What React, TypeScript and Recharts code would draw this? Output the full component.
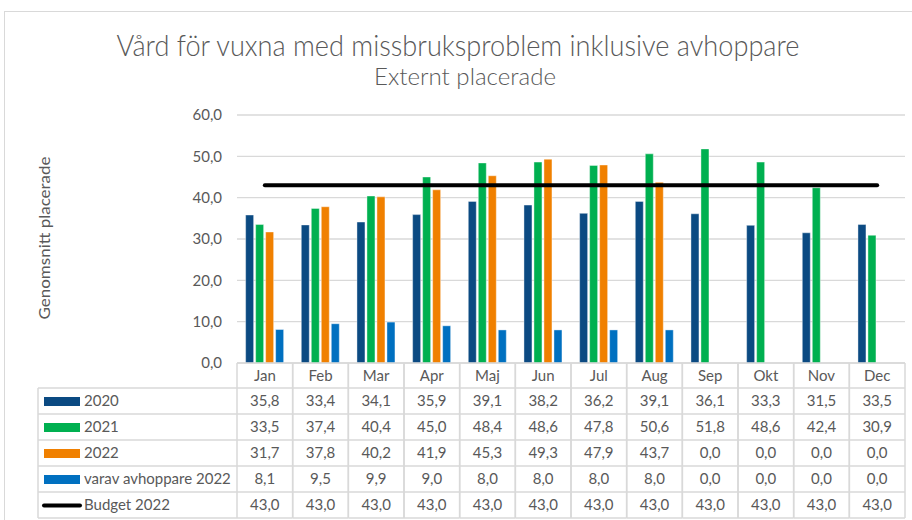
import { ComposedChart, Bar, Line, XAxis, YAxis, CartesianGrid } from 'recharts';

const months = ['Jan', 'Feb', 'Mar', 'Apr', 'Maj', 'Jun', 'Jul', 'Aug', 'Sep', 'Okt', 'Nov', 'Dec'];
const y2020 = [35.8, 33.4, 34.1, 35.9, 39.1, 38.2, 36.2, 39.1, 36.1, 33.3, 31.5, 33.5];
const y2021 = [33.5, 37.4, 40.4, 45.0, 48.4, 48.6, 47.8, 50.6, 51.8, 48.6, 42.4, 30.9];
const y2022 = [31.7, 37.8, 40.2, 41.9, 45.3, 49.3, 47.9, 43.7, 0, 0, 0, 0];
const avhoppare2022 = [8.1, 9.5, 9.9, 9.0, 8.0, 8.0, 8.0, 8.0, 0, 0, 0, 0];
const budget2022 = [43, 43, 43, 43, 43, 43, 43, 43, 43, 43, 43, 43];
const yTicks = [0, 10, 20, 30, 40, 50, 60];

const series = [
  { key: 'y2020', name: '2020', color: '#0B4A82', values: y2020 },
  { key: 'y2021', name: '2021', color: '#00B050', values: y2021 },
  { key: 'y2022', name: '2022', color: '#F08000', values: y2022 },
  { key: 'avh', name: 'varav avhoppare 2022', color: '#0070C0', values: avhoppare2022 },
  { key: 'budget', name: 'Budget 2022', color: '#000000', values: budget2022 },
];

const data = months.map((m, i) => ({
  month: m,
  y2020: y2020[i],
  y2021: y2021[i],
  y2022: y2022[i],
  avh: avhoppare2022[i],
  budget: budget2022[i],
}));

const W = 912;
const H = 520;
const PLOT_LEFT = 237;
const PLOT_RIGHT = 905;
const PLOT_TOP = 115;
const CELL_W = (PLOT_RIGHT - PLOT_LEFT) / months.length;
const ROW_TOPS = [363, 388, 414, 440, 466, 492, 518];
const TEXT = '#595959';
const BORDER = '#D9D9D9';
const FONT = 'Lato, "Open Sans", sans-serif';
const FS = 15;

const fmt = (v: number) => v.toFixed(1).replace('.', ',');

// one table column per category, placed at the axis tick
function TableTick(props: any) {
  const { x, payload } = props;
  const i = payload.index;
  const left = x - CELL_W / 2;
  const right = x + CELL_W / 2;
  return (
    <g>
      <line x1={left} x2={left} y1={ROW_TOPS[0]} y2={ROW_TOPS[6]} stroke={BORDER} strokeWidth={1.5} />
      <line x1={right} x2={right} y1={ROW_TOPS[0]} y2={ROW_TOPS[6]} stroke={BORDER} strokeWidth={1.5} />
      {ROW_TOPS.slice(1).map((t) => (
        <line key={t} x1={left} x2={right} y1={t} y2={t} stroke={BORDER} strokeWidth={1.5} />
      ))}
      <text x={x} y={(ROW_TOPS[0] + ROW_TOPS[1]) / 2 + 5} textAnchor="middle" fill={TEXT} fontSize={FS} fontFamily={FONT}>
        {payload.value}
      </text>
      {series.map((s, r) => (
        <text
          key={s.key}
          x={x}
          y={(ROW_TOPS[r + 1] + ROW_TOPS[r + 2]) / 2 + 5}
          textAnchor="middle"
          fill={TEXT}
          fontSize={FS}
          fontFamily={FONT}
        >
          {fmt(s.values[i])}
        </text>
      ))}
    </g>
  );
}

export default function App() {
  return (
    <div style={{ position: 'fixed', left: 0, top: 0, width: W, height: H, background: '#fff' }}>
      <ComposedChart
        width={W}
        height={H}
        data={data}
        margin={{ top: PLOT_TOP, right: W - PLOT_RIGHT, bottom: 1, left: 177 }}
        barCategoryGap="15.5%"
        barGap={2}
      >
        <CartesianGrid vertical={false} stroke={BORDER} strokeWidth={1.3} />
        <XAxis
          dataKey="month"
          height={156}
          interval={0}
          tickLine={false}
          axisLine={{ stroke: BORDER, strokeWidth: 1.5 }}
          tick={<TableTick />}
        />
        <YAxis
          width={60}
          domain={[0, 60]}
          ticks={yTicks}
          tickFormatter={fmt}
          axisLine={false}
          tickLine={false}
          tickMargin={9}
          tick={{ fill: TEXT, fontSize: FS, fontFamily: FONT }}
        />
        {series.slice(0, 4).map((s) => (
          <Bar
            key={s.key}
            dataKey={s.key}
            name={s.name}
            fill={s.color}
            stroke="#ffffff"
            strokeOpacity={0.5}
            strokeWidth={0.8}
            isAnimationActive={false}
          />
        ))}
        <Line
          dataKey="budget"
          name="Budget 2022"
          stroke="#000000"
          strokeWidth={4}
          strokeLinecap="round"
          dot={false}
          activeDot={false}
          isAnimationActive={false}
        />
      </ComposedChart>
      <svg width={W} height={H} style={{ position: 'absolute', left: 0, top: 0, pointerEvents: 'none' }}>
        <rect x={4.5} y={11.5} width={W} height={H} fill="none" stroke={BORDER} strokeWidth={1} />
        <text x={458} y={56} textAnchor="middle" fill={TEXT} fontSize={29} fontWeight={300} fontFamily={FONT} textLength={683} lengthAdjust="spacingAndGlyphs">
          Vård för vuxna med missbruksproblem inklusive avhoppare
        </text>
        <text x={465} y={85} textAnchor="middle" fill={TEXT} fontSize={23} fontWeight={300} fontFamily={FONT} textLength={182} lengthAdjust="spacingAndGlyphs">
          Externt placerade
        </text>
        <text
          x={0}
          y={0}
          transform="translate(50 238) rotate(-90)"
          textAnchor="middle"
          fill={TEXT}
          fontSize={FS}
          fontFamily={FONT}
          textLength={163}
          lengthAdjust="spacingAndGlyphs"
        >
          Genomsnitt placerade
        </text>
        <line x1={38} x2={38} y1={ROW_TOPS[1]} y2={ROW_TOPS[6]} stroke={BORDER} strokeWidth={1.5} />
        {ROW_TOPS.slice(1).map((t) => (
          <line key={t} x1={38} x2={PLOT_LEFT} y1={t} y2={t} stroke={BORDER} strokeWidth={1.5} />
        ))}
        {series.map((s, r) => {
          const cy = (ROW_TOPS[r + 1] + ROW_TOPS[r + 2]) / 2;
          return (
            <g key={s.key}>
              {s.key === 'budget' ? (
                <line x1={44} x2={80} y1={cy + 0.5} y2={cy + 0.5} stroke={s.color} strokeWidth={4} strokeLinecap="round" />
              ) : (
                <rect x={44} y={cy - 4} width={36} height={9} fill={s.color} />
              )}
              <text x={84} y={cy + 5} fill={TEXT} fontSize={FS} fontFamily={FONT}>
                {s.name}
              </text>
            </g>
          );
        })}
      </svg>
    </div>
  );
}
